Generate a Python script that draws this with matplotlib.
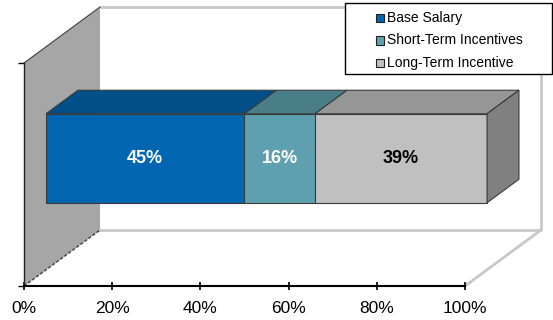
import matplotlib
matplotlib.use("Agg")
import matplotlib.pyplot as plt
from matplotlib.patches import Polygon, Rectangle

plt.rcParams['font.family'] = ['Liberation Sans', 'DejaVu Sans']

# data
series = ["Base Salary", "Short-Term Incentives", "Long-Term Incentive"]
values = [45, 16, 39]
labels = ["45%", "16%", "39%"]
label_colors = ["white", "white", "black"]
xticks = [0, 20, 40, 60, 80, 100]
xtick_labels = ["0%", "20%", "40%", "60%", "80%", "100%"]

# colours: front, top
front_cols = ["#0066b2", "#5fa0b0", "#c0c0c0"]
top_cols = ["#004f88", "#477e88", "#969696"]
side_col = "#808080"
edge = "#3a3a3a"

W, H = 553, 320
fig = plt.figure(figsize=(W / 100, H / 100), dpi=100)
ax = fig.add_axes([24 / W, 34 / H, 441 / W, 286 / H])
ax.set_xlim(0, 100)
ax.set_ylim(0, 286)
ax.patch.set_visible(False)

# 3d depth in data units (x in %, y in px)
px_per_pct = 441 / 100
DEPTH_X, DEPTH_Y = 76 / px_per_pct, 56
band = 223          # category band height (px)
cat = band / 2
bar_h = 89
f0, f1 = 0.29, 0.71  # bar front/back depth fractions


def dep(x, y, f):
    return (x + f * DEPTH_X, y + f * DEPTH_Y)


# walls
left_wall = [dep(0, 0, 0), dep(0, band, 0), dep(0, band, 1), dep(0, 0, 1)]
ax.add_patch(Polygon(left_wall, closed=True, facecolor="#a6a6a6", edgecolor="none",
                     clip_on=False, zorder=1))
ax.plot(*zip(dep(0, band, 0), dep(0, band, 1)), color="#404040", lw=0.8, clip_on=False, zorder=2)
ax.plot(*zip(dep(0, 0, 0), dep(0, 0, 1)), color="#505050", lw=1.2, ls=(0, (2, 1)),
        clip_on=False, zorder=2)
back = [dep(0, 0, 1), dep(100, 0, 1), dep(100, band, 1), dep(0, band, 1)]
ax.plot([back[0][0], back[1][0], back[2][0], back[3][0]],
        [back[0][1], back[1][1], back[2][1], back[3][1]],
        color="#c8c8c8", lw=2, clip_on=False, zorder=1)
ax.plot(*zip(dep(100, 0, 0), dep(100, 0, 1)), color="#c8c8c8", lw=2, clip_on=False, zorder=1)

# bars
lefts = [sum(values[:i]) for i in range(len(values))]
y0, y1 = cat - bar_h / 2, cat + bar_h / 2
for i, (l, v) in enumerate(zip(lefts, values)):
    r = l + v
    front = [dep(l, y0, f0), dep(r, y0, f0), dep(r, y1, f0), dep(l, y1, f0)]
    ax.add_patch(Polygon(front, closed=True, facecolor=front_cols[i], edgecolor=edge,
                         lw=0.8, clip_on=False, zorder=3))
    top = [dep(l, y1, f0), dep(r, y1, f0), dep(r, y1, f1), dep(l, y1, f1)]
    ax.add_patch(Polygon(top, closed=True, facecolor=top_cols[i], edgecolor=edge,
                         lw=0.8, clip_on=False, zorder=3))
    cx, cy = dep(l + v / 2, cat, f0)
    ax.text(cx, cy, labels[i], color=label_colors[i], fontsize=13, fontweight="bold",
            ha="center", va="center", zorder=5)

end = sum(values)
side = [dep(end, y0, f0), dep(end, y1, f0), dep(end, y1, f1), dep(end, y0, f1)]
ax.add_patch(Polygon(side, closed=True, facecolor=side_col, edgecolor=edge,
                     lw=0.8, clip_on=False, zorder=3))

# axes
for s in ["top", "right"]:
    ax.spines[s].set_visible(False)
ax.spines["bottom"].set_linewidth(1.5)
ax.spines["left"].set_bounds(0, band)
ax.spines["left"].set_linewidth(1.0)
ax.spines["left"].set_color("#202020")
ax.set_xticks(xticks)
ax.set_xticklabels(xtick_labels, fontsize=12.5)
ax.tick_params(axis="x", direction="inout", length=6, width=1.2, pad=7.5)
ax.set_yticks([0, band])
ax.set_yticklabels([])
ax.tick_params(axis="y", direction="out", length=4, width=1)

# legend
fig.add_artist(Rectangle((345 / W, 1 - 74 / H), 207 / W, 71 / H, transform=fig.transFigure,
                         facecolor="white", edgecolor="black", lw=1, zorder=10))
for i, name in enumerate(series):
    yc = 1 - (18 + 22.5 * i) / H
    fig.add_artist(Rectangle((376 / W, yc - 4 / H), 8 / W, 8 / H, transform=fig.transFigure,
                             facecolor=front_cols[i], edgecolor="#202020", lw=0.8, zorder=11))
    fig.text(387 / W, yc, name, fontsize=10, va="center", ha="left", zorder=12)

fig.savefig("out.png", dpi=100)
